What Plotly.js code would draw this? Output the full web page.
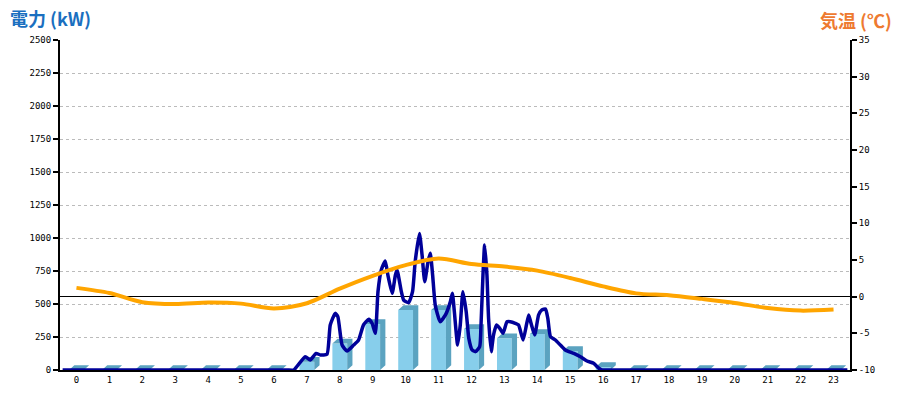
<!DOCTYPE html>
<html>
<head>
<meta charset="utf-8">
<script src="https://cdn.plot.ly/plotly-3.0.1.min.js"></script>
<style>html,body{margin:0;padding:0;background:#fff;}#chart{width:900px;height:400px;}</style>
</head>
<body>
<div id="chart"></div>
<script>
// ---- data ----
const hours = [0,1,2,3,4,5,6,7,8,9,10,11,12,13,14,15,16,17,18,19,20,21,22,23];
const hourLabels = ['0','1','2','3','4','5','6','7','8','9','10','11','12','13','14','15','16','17','18','19','20','21','22','23'];
const hourlyKW = [0,0,0,0,0,0,0,63,200,348,455,455,311,240,273,144,22,0,0,0,0,0,0,0];
const tempC = [1.2,0.5,-0.75,-1.0,-0.8,-0.95,-1.6,-0.9,1.1,2.85,4.3,5.2,4.45,4.1,3.55,2.55,1.4,0.45,0.2,-0.3,-0.85,-1.55,-1.9,-1.75];
const powerTime = [-0.42,6.0,6.4,6.6,6.95,7.1,7.28,7.41,7.61,7.71,7.86,7.94,8.07,8.22,8.42,8.57,8.72,8.88,8.98,9.08,9.16,9.26,9.38,9.46,9.59,9.69,9.74,9.87,9.94,10.09,10.21,10.29,10.42,10.5,10.58,10.68,10.75,10.82,10.9,11.05,11.21,11.36,11.42,11.48,11.58,11.66,11.74,11.84,11.92,12.02,12.12,12.25,12.29,12.35,12.4,12.47,12.52,12.6,12.67,12.76,12.86,12.96,13.08,13.18,13.33,13.43,13.57,13.67,13.74,13.81,13.92,14.04,14.14,14.25,14.32,14.4,14.55,14.7,14.85,15.11,15.31,15.51,15.71,15.87,15.97,16.2,16.6,23.42];
const powerKW = [0,0,0,0,101,76,126,114,119,341,429,404,189,144,189,227,341,384,354,278,593,758,826,720,581,720,758,593,530,510,593,820,1035,871,669,820,884,720,492,366,417,518,581,442,189,341,593,442,240,152,139,177,341,720,947,720,391,139,265,341,316,278,366,366,354,341,227,341,417,354,265,417,455,462,391,253,227,189,152,126,101,68,51,13,0,0,0,0];
const kwTicks = [0,250,500,750,1000,1250,1500,1750,2000,2250,2500];
const tempTicks = [-10,-5,0,5,10,15,20,25,30,35];
const tempTickText = ['-10','-5','0','5','10','15','20','25','30','35'];

// ---- 3D bar faces (top + side) built from the hourly values ----
const BW = 0.45, DX = 0.16, DY = 36;
const faceX = [], faceY = [];
hours.forEach((h, i) => {
  const v = hourlyKW[i], x0 = h - BW/2, x1 = h + BW/2;
  faceX.push(x0, x0 + DX, x1 + DX, x1 + DX, x1, x1, x0, null);
  faceY.push(v, v + DY, v + DY, DY, 0, v, v, null);
});

const mono = {family: 'DejaVu Sans Mono, monospace', size: 9, color: '#000'};

const traces = [
  {type: 'bar', x: hours, y: hourlyKW, width: BW, marker: {color: '#87CEEB', line: {width: 0}}, hoverinfo: 'skip'},
  {type: 'scatter', x: faceX, y: faceY, mode: 'none', fill: 'toself', fillcolor: '#5BA3C0', hoverinfo: 'skip'},
  {type: 'scatter', x: hours, y: tempC, yaxis: 'y2', mode: 'lines', line: {color: '#FFA500', width: 4, shape: 'spline', smoothing: 0.8}, hoverinfo: 'skip'},
  {type: 'scatter', x: powerTime, y: powerKW, mode: 'lines', line: {color: '#000099', width: 3.5, shape: 'spline', smoothing: 0.5}, hoverinfo: 'skip', cliponaxis: true}
];

const layout = {
  width: 900, height: 400,
  margin: {l: 60, r: 50, t: 40, b: 30, pad: 0},
  paper_bgcolor: '#fff', plot_bgcolor: '#fff',
  showlegend: false,
  xaxis: {
    range: [-0.5, 23.5], tickvals: hours, ticktext: hourLabels, tickfont: mono,
    showgrid: false, zeroline: false, showline: true, linecolor: '#000', linewidth: 2,
    ticks: '', fixedrange: true
  },
  yaxis: {
    range: [0, 2500], tickvals: kwTicks, tickfont: mono,
    showgrid: true, gridcolor: '#bbbbbb', gridwidth: 1, griddash: 'dot',
    zeroline: false, showline: true, linecolor: '#000', linewidth: 2,
    ticks: 'outside', ticklen: 5, tickwidth: 2, tickcolor: '#000', fixedrange: true
  },
  yaxis2: {
    overlaying: 'y', side: 'right', range: [-10, 35],
    tickvals: tempTicks, ticktext: tempTickText, tickfont: mono,
    showgrid: false, zeroline: true, zerolinecolor: '#000', zerolinewidth: 1.5,
    showline: true, linecolor: '#000', linewidth: 2,
    ticks: 'outside', ticklen: 5, tickwidth: 2, tickcolor: '#000', fixedrange: true
  },
  annotations: [
    {xref: 'paper', yref: 'paper', x: -0.066, y: 1.066, xanchor: 'left', yanchor: 'middle', showarrow: false,
     text: '<b>電力 (kW)</b>', font: {family: 'Noto Sans CJK JP, sans-serif', size: 18, color: '#1A6FC0'}},
    {xref: 'paper', yref: 'paper', x: 1.056, y: 1.06, xanchor: 'right', yanchor: 'middle', showarrow: false,
     text: '<b>気温 (℃)</b>', font: {family: 'Noto Sans CJK JP, sans-serif', size: 18, color: '#EE7A30'}}
  ]
};

Plotly.newPlot('chart', traces, layout, {staticPlot: true, displayModeBar: false});
</script>
</body>
</html>
